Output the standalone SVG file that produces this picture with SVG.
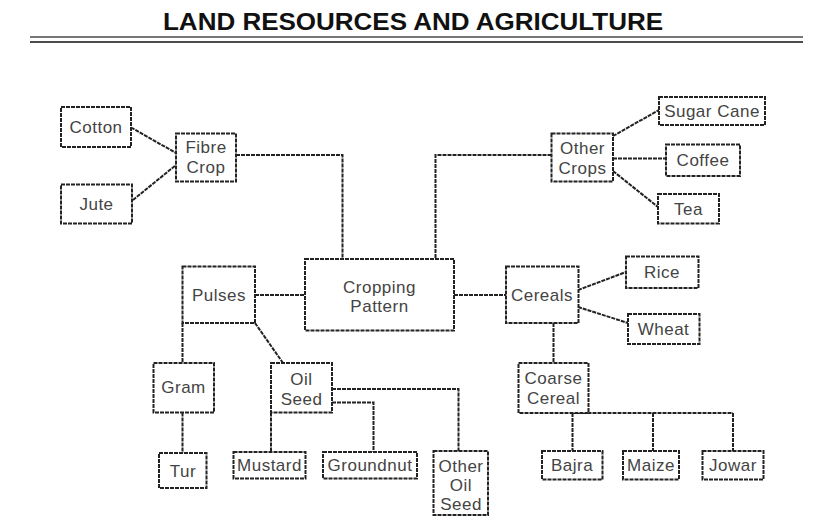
<svg xmlns="http://www.w3.org/2000/svg" width="840" height="526" viewBox="0 0 840 526">
<style>
.b{fill:#fff;stroke:#222;stroke-width:2;stroke-dasharray:4 1}
.c{fill:none;stroke:#222;stroke-width:2;stroke-dasharray:4 1}
text{font-family:"Liberation Sans",Arial,sans-serif;font-size:17px;fill:#444;text-anchor:middle;letter-spacing:0.5px}
.t{font-size:24px;font-weight:bold;fill:#111;letter-spacing:0}
</style>
<rect width="840" height="526" fill="#fff"/>
<text class="t" x="413" y="30" textLength="500" lengthAdjust="spacingAndGlyphs">LAND RESOURCES AND AGRICULTURE</text>
<line x1="30" y1="37" x2="803" y2="37" stroke="#777" stroke-width="2"/>
<line x1="30" y1="42" x2="803" y2="42" stroke="#111" stroke-width="1.5"/>
<g id="connectors">
<polyline class="c" points="236,155 342.5,155 342.5,259"/>
<polyline class="c" points="551.5,155 435.5,155 435.5,259"/>
<line class="c" x1="131" y1="127.5" x2="176" y2="153"/>
<line class="c" x1="133" y1="200" x2="176" y2="165"/>
<line class="c" x1="613" y1="136" x2="659" y2="110"/>
<line class="c" x1="613" y1="158.5" x2="666" y2="158.5"/>
<line class="c" x1="613" y1="171" x2="658" y2="207"/>
<line class="c" x1="255" y1="295" x2="305" y2="295"/>
<line class="c" x1="454" y1="295" x2="506" y2="295"/>
<line class="c" x1="578" y1="290" x2="626" y2="272"/>
<line class="c" x1="578" y1="307" x2="628" y2="323"/>
<line class="c" x1="553.5" y1="323" x2="553.5" y2="363" stroke-width="3"/>
<line class="c" x1="182.5" y1="323" x2="182.5" y2="363"/>
<line class="c" x1="255" y1="323" x2="283" y2="363"/>
<line class="c" x1="182.5" y1="412.5" x2="182.5" y2="453"/>
<line class="c" x1="271" y1="412.5" x2="271" y2="452"/>
<polyline class="c" points="332,402.5 373.5,402.5 373.5,452"/>
<polyline class="c" points="332,389 458.5,389 458.5,451"/>
<polyline class="c" points="572.5,413 733,413"/>
<line class="c" x1="572.5" y1="413" x2="572.5" y2="451"/>
<line class="c" x1="653" y1="413" x2="653" y2="451"/>
<line class="c" x1="733" y1="413" x2="733" y2="451"/>
</g>
<g id="cotton"><rect class="b" x="61" y="107" width="70" height="40"/><text x="96" y="133">Cotton</text></g>
<g id="jute"><rect class="b" x="61" y="184.5" width="71" height="39"/><text x="96.5" y="210">Jute</text></g>
<g id="fibre-crop"><rect class="b" x="176" y="133.5" width="60" height="48"/><text x="206" y="152.5">Fibre</text><text x="206" y="173">Crop</text></g>
<g id="other-crops"><rect class="b" x="551.5" y="133.5" width="61.5" height="48"/><text x="582.5" y="153.5">Other</text><text x="582.5" y="173.5">Crops</text></g>
<g id="sugar-cane"><rect class="b" x="659" y="97" width="106" height="28"/><text x="712" y="117">Sugar Cane</text></g>
<g id="coffee"><rect class="b" x="666" y="144.5" width="74" height="31.5"/><text x="703" y="166">Coffee</text></g>
<g id="tea"><rect class="b" x="658" y="194" width="61" height="29.5"/><text x="688.5" y="215">Tea</text></g>
<g id="cropping-pattern"><rect class="b" x="305" y="259" width="149" height="71.5"/><text x="379.5" y="292.5">Cropping</text><text x="379.5" y="312">Pattern</text></g>
<g id="pulses"><rect class="b" x="182.5" y="266.5" width="72.5" height="56.5"/><text x="219" y="301">Pulses</text></g>
<g id="cereals"><rect class="b" x="506" y="266.5" width="72.5" height="56.5"/><text x="542" y="301">Cereals</text></g>
<g id="rice"><rect class="b" x="626" y="256.5" width="72.5" height="31.5"/><text x="662" y="278">Rice</text></g>
<g id="wheat"><rect class="b" x="628" y="314" width="71.5" height="30"/><text x="663.5" y="335">Wheat</text></g>
<g id="gram"><rect class="b" x="153.5" y="363" width="60.5" height="49.5"/><text x="183.5" y="393">Gram</text></g>
<g id="oil-seed"><rect class="b" x="271" y="363" width="61" height="49.5"/><text x="301.5" y="384.5">Oil</text><text x="301.5" y="405">Seed</text></g>
<g id="coarse-cereal"><rect class="b" x="518.5" y="363" width="70" height="50"/><text x="553.5" y="384">Coarse</text><text x="553.5" y="404">Cereal</text></g>
<g id="tur"><rect class="b" x="159" y="453" width="47.5" height="35"/><text x="183" y="477">Tur</text></g>
<g id="mustard"><rect class="b" x="233.5" y="452" width="72" height="26.5"/><text x="269.5" y="471">Mustard</text></g>
<g id="groundnut"><rect class="b" x="323" y="452" width="94" height="26.5"/><text x="370" y="471">Groundnut</text></g>
<g id="other-oil-seed"><rect class="b" x="433.5" y="451" width="54.5" height="64"/><text x="461" y="472">Other</text><text x="461" y="491">Oil</text><text x="461" y="510">Seed</text></g>
<g id="bajra"><rect class="b" x="542" y="451" width="60.5" height="28.5"/><text x="572" y="471">Bajra</text></g>
<g id="maize"><rect class="b" x="623" y="451" width="56" height="28.5"/><text x="651" y="471">Maize</text></g>
<g id="jowar"><rect class="b" x="702.5" y="451" width="61" height="28.5"/><text x="733" y="471">Jowar</text></g>
</svg>
